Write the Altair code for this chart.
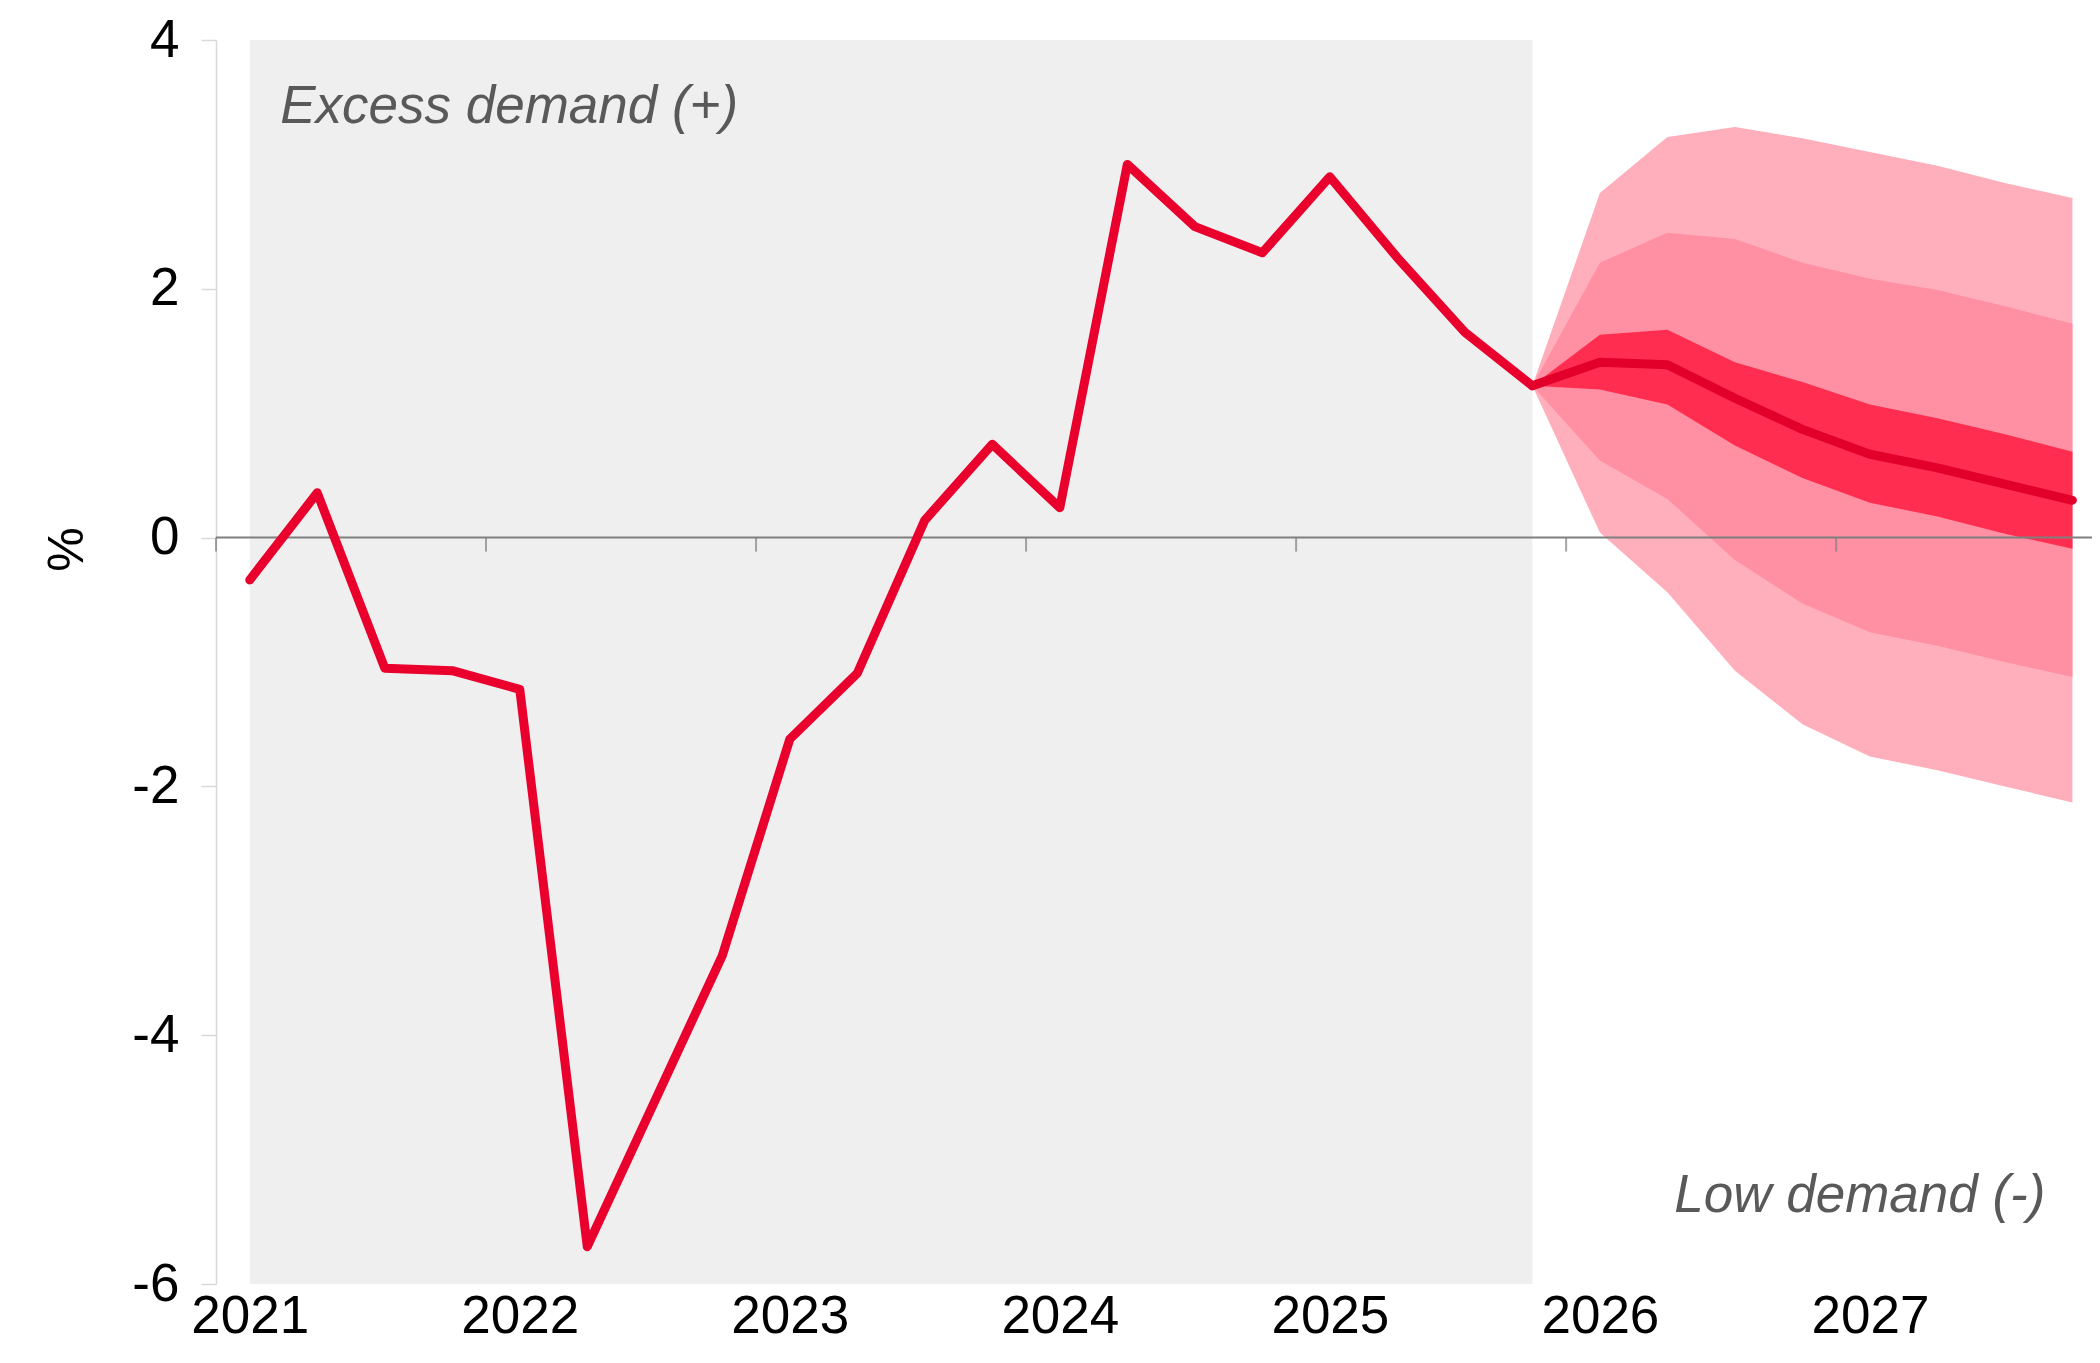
import altair as alt
import pandas as pd

# ---- data ----
year_labels = ["2021", "2022", "2023", "2024", "2025", "2026", "2027"]
year_label_idx = [0, 4, 8, 12, 16, 20, 24]          # first quarter of each year
year_boundary_idx = [-0.5, 3.5, 7.5, 11.5, 15.5, 19.5, 23.5]

hist_idx = list(range(20))                          # 2021Q1 .. 2025Q4
hist_values = [-0.34, 0.36, -1.05, -1.07, -1.22, -5.70, -4.53, -3.36,
               -1.62, -1.09, 0.14, 0.75, 0.24, 3.00, 2.50, 2.29,
               2.90, 2.25, 1.65, 1.22]

fc_idx = list(range(19, 28))                        # 2025Q4 .. 2027Q4
central = [1.22, 1.41, 1.39, 1.12, 0.87, 0.67, 0.56, 0.43, 0.30]
inner_hi = [1.22, 1.63, 1.67, 1.41, 1.25, 1.07, 0.96, 0.83, 0.69]
inner_lo = [1.22, 1.19, 1.07, 0.74, 0.48, 0.28, 0.17, 0.03, -0.09]
mid_hi = [1.22, 2.21, 2.45, 2.40, 2.21, 2.08, 1.99, 1.86, 1.72]
mid_lo = [1.22, 0.62, 0.31, -0.18, -0.53, -0.76, -0.87, -1.00, -1.12]
out_hi = [1.22, 2.77, 3.22, 3.30, 3.21, 3.10, 2.99, 2.85, 2.73]
out_lo = [1.22, 0.04, -0.44, -1.07, -1.50, -1.76, -1.87, -2.00, -2.13]

shade_from, shade_to = [0], [19]
y_ticks = [-6, -4, -2, 0, 2, 4]

ann_left_text, ann_left_x, ann_left_y = ["Excess demand (+)"], [0.45], [3.33]
ann_right_text, ann_right_x, ann_right_y = ["Low demand (-)"], [26.6], [-5.42]

# ---- tables ----
hist_df = pd.DataFrame({"idx": hist_idx, "v": hist_values})
fc_df = pd.DataFrame({"idx": fc_idx, "c": central, "ih": inner_hi, "il": inner_lo,
                      "mh": mid_hi, "ml": mid_lo, "oh": out_hi, "ol": out_lo})
shade_df = pd.DataFrame({"x0": shade_from, "x1": shade_to, "y0": [-6], "y1": [4]})
tick_df = pd.DataFrame({"idx": year_boundary_idx, "zero": [0] * len(year_boundary_idx)})
zero_df = pd.DataFrame({"zero": [0]})
annL = pd.DataFrame({"t": ann_left_text, "x": ann_left_x, "y": ann_left_y})
annR = pd.DataFrame({"t": ann_right_text, "x": ann_right_x, "y": ann_right_y})

FONT = "Liberation Sans"
label_expr = "[" + ",".join("'%s'" % s for s in year_labels) + "][datum.value/4]"

x_scale = alt.Scale(domain=[-0.5, 27.29], nice=False, zero=False)
y_scale = alt.Scale(domain=[-6, 4], nice=False, zero=False)

x_axis = alt.Axis(values=year_label_idx, labelExpr=label_expr, domain=False, ticks=False,
                  grid=False, labelFontSize=53, labelFont=FONT, labelColor="#000000",
                  labelPadding=6, title=None)
y_axis = alt.Axis(values=y_ticks, labelExpr="'' + datum.value", grid=False,
                  domainColor="#D9D9D9", domainWidth=1.5, tickColor="#D9D9D9", tickWidth=1.5,
                  tickSize=15, labelFontSize=53, labelFont=FONT, labelColor="#000000",
                  labelPadding=22, title="%", titleFont=FONT, titleFontSize=50,
                  titleFontWeight="normal", titleColor="#000000", titleAngle=270,
                  titleX=-149, titleY=509, titleAlign="center", titleBaseline="middle")

X = lambda f: alt.X(f, type="quantitative", scale=x_scale, axis=x_axis)
Y = lambda f: alt.Y(f, type="quantitative", scale=y_scale, axis=y_axis)

shade = alt.Chart(shade_df).mark_rect(color="#EFEFEF").encode(
    x=X("x0"), x2="x1", y=Y("y0"), y2="y1")

outer = alt.Chart(fc_df).mark_area(color="#FFAFBC", opacity=1).encode(
    x=X("idx"), y=Y("ol"), y2="oh")
middle = alt.Chart(fc_df).mark_area(color="#FF8FA2", opacity=1).encode(
    x=X("idx"), y=Y("ml"), y2="mh")
inner = alt.Chart(fc_df).mark_area(color="#FF2E50", opacity=1).encode(
    x=X("idx"), y=Y("il"), y2="ih")

zero_rule = alt.Chart(zero_df).mark_rule(color="#7F7F7F", strokeWidth=2).encode(y=Y("zero"))
zero_ticks = alt.Chart(tick_df).mark_tick(orient="vertical", color="#7F7F7F", size=14,
                                          thickness=2, yOffset=7).encode(
    x=X("idx"), y=Y("zero"))

hist_line = alt.Chart(hist_df).mark_line(color="#E9002D", strokeWidth=9, strokeCap="round",
                                         strokeJoin="round").encode(x=X("idx"), y=Y("v"))
fc_line = alt.Chart(fc_df).mark_line(color="#E2002B", strokeWidth=9, strokeCap="round",
                                     strokeJoin="round").encode(x=X("idx"), y=Y("c"))

txtL = alt.Chart(annL).mark_text(align="left", baseline="alphabetic", font=FONT,
                                 fontStyle="italic", fontSize=53, color="#595959").encode(
    x=X("x"), y=Y("y"), text="t")
txtR = alt.Chart(annR).mark_text(align="right", baseline="alphabetic", font=FONT,
                                 fontStyle="italic", fontSize=53, color="#595959").encode(
    x=X("x"), y=Y("y"), text="t")

chart = alt.layer(shade, outer, middle, inner, zero_rule, zero_ticks, hist_line, fc_line,
                  txtL, txtR).properties(
    width=1876, height=1244,
    autosize=alt.AutoSizeParams(type="none"),
    padding={"left": 208, "top": 32, "right": 0, "bottom": 66},
    background="#FFFFFF",
).configure_view(stroke=None)

chart.save("out.html", embed_options={"renderer": "svg", "actions": False})
